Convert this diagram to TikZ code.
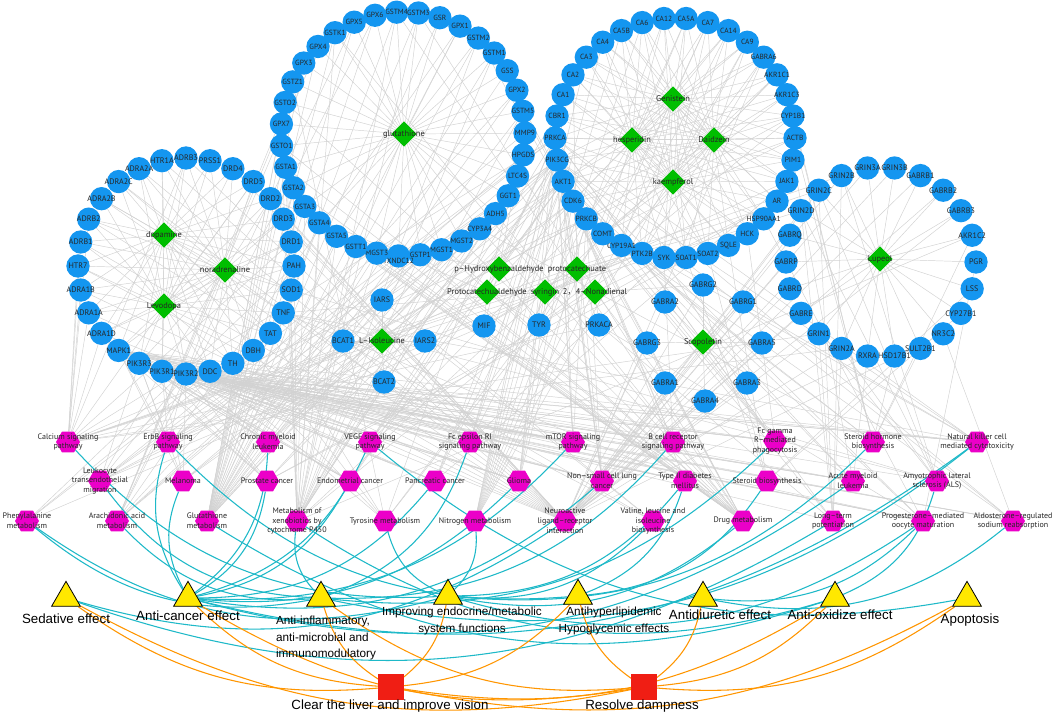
\documentclass[tikz,border=0pt]{standalone}
\usepackage{fontspec}
\setmainfont{PT Sans}
\newfontfamily\efffont{Liberation Sans}
\newfontfamily\cjk{Noto Sans CJK SC}
\usetikzlibrary{shapes.geometric}
\pgfdeclarelayer{bg}
\pgfsetlayers{bg,main}
\definecolor{geneblue}{RGB}{20,150,240}
\definecolor{cgreen}{RGB}{0,190,0}
\definecolor{pmag}{RGB}{235,0,200}
\definecolor{eyel}{RGB}{255,232,0}
\definecolor{hred}{RGB}{240,30,20}
\definecolor{ecyan}{RGB}{30,185,200}
\definecolor{eorange}{RGB}{255,150,0}
\definecolor{egray}{RGB}{210,210,210}
\tikzset{
 gene/.style={circle,fill=geneblue,minimum size=17.5pt,inner sep=0pt},
 glab/.style={font=\fontsize{6}{7}\selectfont,text=black!85,inner sep=0pt},
 glabs/.style={font=\fontsize{5.6}{7}\selectfont,text=black!85,inner sep=0pt},
 cmpd/.style={diamond,fill=cgreen,minimum size=19pt,inner sep=0pt},
 clab/.style={font=\fontsize{6.3}{7.5}\selectfont,text=black!85,inner sep=0pt},
 pway/.style={regular polygon,regular polygon sides=6,fill=pmag,minimum size=18pt,inner sep=0pt},
 plab/.style={font=\fontsize{6}{7.4}\selectfont,text=black!85,align=center,inner sep=0pt},
 effect/.style={regular polygon,regular polygon sides=3,fill=eyel,draw=black,line width=0.6pt,minimum size=25pt,inner sep=0pt},
 elab/.style={font=\efffont\fontsize{10}{12.5}\selectfont,align=center,inner sep=0pt},
 elabs/.style={font=\efffont\fontsize{8.8}{12.5}\selectfont,align=center,inner sep=0pt},
 herb/.style={rectangle,fill=hred,minimum size=19pt,inner sep=0pt},
 gedge/.style={draw=egray,line width=0.35pt},
 cedge/.style={draw=ecyan,line width=0.8pt},
 oedge/.style={draw=eorange,line width=0.8pt},
}
\def\ringA{ADRB3,PRSS1,DRD4,DRD5,DRD2,DRD3,DRD1,PAH,SOD1,TNF,TAT,DBH,TH,DDC,PIK3R2,PIK3R1,PIK3R3,MAPK1,ADRA1D,ADRA1A,ADRA1B,HTR7,ADRB1,ADRB2,ADRA2B,ADRA2C,ADRA2A,HTR1A}
\def\ringB{GSTM4,GSTM3,GSR,GPX1,GSTM2,GSTM1,GSS,GPX2,GSTM5,MMP9,HPGDS,LTC4S,GGT1,ADH5,CYP3A4,MGST2,MGST1,GSTP1,TXNDC12,MGST3,GSTT1,GSTA5,GSTA4,GSTA3,GSTA2,GSTA1,GSTO1,GPX7,GSTO2,GSTZ1,GPX3,GPX4,GSTK1,GPX5,GPX6}
\def\ringC{CA12,CA5A,CA7,CA14,CA9,GABRA6,AKR1C1,AKR1C3,CYP1B1,ACTB,PIM1,JAK1,AR,HSP90AA1,HCK,SQLE,SOAT2,SOAT1,SYK,PTK2B,CYP19A1,COMT,PRKCB,CDK6,AKT1,PIK3CG,PRKCA,CBR1,CA1,CA2,CA3,CA4,CA5B,CA6}
\def\ringD{GRIN3A,GRIN3B,GABRB1,GABRB2,GABRB3,AKR1C2,PGR,LSS,CYP27B1,NR3C2,SULT2B1,HSD17B1,RXRA,GRIN2A,GRIN1,GABRE,GABRD,GABRP,GABRQ,GRIN2D,GRIN2C,GRIN2B}
\begin{document}
\begin{tikzpicture}[x=0.75pt,y=0.75pt]
\useasboundingbox (0,0) rectangle (1052,-715);
% ---------- gene rings
\foreach \n [count=\i from 0] in \ringA
  \node[gene,label={[glab]center:\n}] (\n) at ([shift={({90-\i*12.857}:108)}]186,-266) {};
\foreach \n [count=\i from 0] in \ringB
  \node[gene,label={[glabs,yshift={ifthenelse(\i==18,-3.5,0)}]center:\n}] (\n) at ([shift={({93-\i*10.2857}:122)}]403,-134) {};
\foreach \n [count=\i from 0] in \ringC
  \node[gene,label={[glabs]center:\n}] (\n) at ([shift={({95.29-\i*10.588}:120)}]675,-138) {};
\foreach \n [count=\i from 0] in \ringD
  \node[gene,label={[glab]center:\n}] (\n) at ([shift={({98.18-\i*16.364}:95)}]881,-262) {};
% ---------- free genes
\foreach \n/\x/\y in {IARS/382/300,MIF/484/326,TYR/539/325,PRKACA/599/325,BCAT1/343/341,IARS2/425/341,BCAT2/384/382,GABRG2/703/285,GABRA2/665/302,GABRG1/743/302,GABRG3/647/343,GABRA5/762/343,GABRA1/665/383,GABRA3/747/383,GABRA4/705/401}
  \node[gene,label={[glab]center:\n}] (\n) at (\x,-\y) {};
% ---------- compounds
\node[cmpd,label={[clab]center:dopamine}] (dopamine) at (164,-235) {};
\node[cmpd,label={[clab]center:noradrenaline}] (noradrenaline) at (225,-270) {};
\node[cmpd,label={[clab]center:Levodopa}] (Levodopa) at (164,-306) {};
\node[cmpd,label={[clab]center:glutathione}] (glutathione) at (404,-134) {};
\node[cmpd,label={[clab]center:Genistein}] (Genistein) at (673,-99) {};
\node[cmpd,label={[clab]center:hesperidin}] (hesperidin) at (632,-140) {};
\node[cmpd,label={[clab]center:Daidzein}] (Daidzein) at (714,-140) {};
\node[cmpd,label={[clab]center:kaempferol}] (kaempferol) at (673,-182) {};
\node[cmpd,label={[clab]center:Lupeol}] (Lupeol) at (880,-259) {};
\node[cmpd,label={[clab]center:p–Hydroxybenzaldehyde}] (phb) at (499,-269) {};
\node[cmpd,label={[clab]center:protocatechuate}] (pca) at (577,-269) {};
\node[cmpd,label={[clab]center:Protocatechualdehyde}] (pcal) at (487,-292) {};
\node[cmpd,label={[clab]center:syringin}] (syringin) at (545,-292) {};
\node[cmpd,label={[clab]center:{2{\cjk ，}4–Nonadienal}}] (nonadienal) at (595,-292) {};
\node[cmpd,label={[clab]center:L–Isoleucine}] (lile) at (382,-341) {};
\node[cmpd,label={[clab]center:Scopoletin}] (Scopoletin) at (703,-342) {};
% ---------- pathways
\foreach \n/\x/\y/\t in {
 calcium/68/442/{Calcium signaling\\pathway},
 erbb/168/442/{ErbB signaling\\pathway},
 cml/268/442/{Chronic myeloid\\leukemia},
 vegf/370/442/{VEGF signaling\\pathway},
 fceri/470/442/{Fc epsilon RI\\signaling pathway},
 mtor/573/442/{mTOR signaling\\pathway},
 bcr/673/442/{B cell receptor\\signaling pathway},
 fcgr/775/441/{Fc gamma\\R–mediated\\phagocytosis},
 steroidh/873/442/{Steroid hormone\\biosynthesis},
 nk/977/442/{Natural killer cell\\mediated cytotoxicity},
 leuko/100/481/{Leukocyte\\transendothelial\\migration},
 melanoma/183/481/{Melanoma},
 prostate/267/481/{Prostate cancer},
 endometrial/350/481/{Endometrial cancer},
 pancreatic/435/481/{Pancreatic cancer},
 glioma/519/481/{Glioma},
 nsclc/602/481/{Non–small cell lung\\cancer},
 t2d/685/481/{Type II diabetes\\mellitus},
 steroidb/767/481/{Steroid biosynthesis},
 aml/853/481/{Acute myeloid\\leukemia},
 als/937/481/{Amyotrophic lateral\\sclerosis (ALS)},
 phe/27/521/{Phenylalanine\\metabolism},
 arach/117/521/{Arachidonic acid\\metabolism},
 glutmet/207/521/{Glutathione\\metabolism},
 xeno/297/521/{Metabolism of\\xenobiotics by\\cytochrome P450},
 tyro/385/521/{Tyrosine metabolism},
 nitro/475/521/{Nitrogen metabolism},
 neuro/565/521/{Neuroactive\\ligand–receptor\\interaction},
 valine/653/521/{Valine, leucine and\\isoleucine\\biosynthesis},
 drugmet/743/521/{Drug metabolism},
 ltp/833/521/{Long–term\\potentiation},
 prog/923/521/{Progesterone–mediated\\oocyte maturation},
 aldo/1013/521/{Aldosterone–regulated\\sodium reabsorption}}
  \node[pway,label={[plab]center:\t}] (\n) at (\x,-\y) {};
% ---------- effects
\foreach \n/\x/\y in {sed/66/598,canc/188/598,infl/321/598,endo/448/596,lipid/578/596,diur/703/598,oxid/835/598,apop/967/598}
  \node[effect] (\n) at (\x,-\y) {};
\node[elab] (sedL) at (66,-619) {Sedative effect};
\node[elab] (cancL) at (188,-616) {Anti-cancer effect};
\node[elabs,align=left] (inflL) at (326,-638) {Anti-inflammatory,\\anti-microbial and\\immunomodulatory};
\node[elabs] (endoL) at (462,-621) {Improving endocrine/metabolic\\system functions};
\node[elabs] (lipidL) at (614,-621) {Antihyperlipidemic\\Hypoglycemic effects};
\node[elab] (diurL) at (720,-615) {Antidiuretic effect};
\node[elab] (oxidL) at (840,-615) {Anti-oxidize effect};
\node[elab] (apopL) at (970,-620) {Apoptosis};
% ---------- herbs
\node[herb] (clear) at (391,-687) {};
\node[herb] (resolve) at (644,-687) {};
\node[elab] (clearL) at (390,-706) {Clear the liver and improve vision};
\node[elab] (resolveL) at (642,-706) {Resolve dampness};
% ---------- edges
\begin{pgfonlayer}{bg}
\fill[white] (0,0) rectangle (1052,-715);
\foreach \c in {dopamine,noradrenaline,Levodopa}
  \foreach \g in \ringA \draw[gedge] (\c) -- (\g);
\foreach \g in \ringB \draw[gedge] (glutathione) -- (\g);
\foreach \c in {Genistein,hesperidin,Daidzein,kaempferol}
  \foreach \g in \ringC \draw[gedge] (\c) -- (\g);
\foreach \g in \ringD \draw[gedge] (Lupeol) -- (\g);
\foreach \c/\gl in {
 phb/{MIF,TYR,AKT1,PIK3CG,GSTP1,PRKCA,MMP9},
 pca/{TYR,PRKACA,MIF,CA2,AKT1,HSP90AA1},
 pcal/{MIF,TYR,MMP9,PRKCA,CDK6,DRD2},
 syringin/{TYR,PRKACA,TNF,MIF,JAK1},
 nonadienal/{PRKACA,GABRA1,GABRG2,TYR,AR},
 lile/{BCAT1,BCAT2,IARS,IARS2},
 Scopoletin/{GABRA1,GABRA2,GABRA3,GABRA4,GABRA5,GABRG1,GABRG2,GABRG3}}
  \foreach \g in \gl \draw[gedge] (\c) -- (\g);
\foreach \p/\gl in {
 calcium/{ADRA1A,ADRA1B,ADRA1D,ADRB1,ADRB2,ADRB3,HTR7,DRD1,DRD5,PRKCA,PRKCB,PRKACA,GRIN1,GRIN2A,GRIN2B,GRIN2C,GRIN2D,PTK2B},
 erbb/{MAPK1,PIK3R1,PIK3R2,PIK3R3,PIK3CG,AKT1,PRKCA,PRKCB,PTK2B},
 cml/{MAPK1,PIK3R1,PIK3R2,PIK3R3,PIK3CG,AKT1,CDK6},
 vegf/{MAPK1,PIK3R1,PIK3R2,PIK3R3,PIK3CG,AKT1,PRKCA,PRKCB,PTK2B},
 fceri/{MAPK1,PIK3R1,PIK3R2,PIK3R3,PIK3CG,AKT1,PRKCA,PRKCB,SYK,TNF},
 mtor/{MAPK1,PIK3R1,PIK3R2,PIK3R3,PIK3CG,AKT1,PRKCA,PRKCB},
 bcr/{MAPK1,PIK3R1,PIK3R2,PIK3R3,PIK3CG,AKT1,SYK},
 fcgr/{MAPK1,PIK3R1,PIK3R2,PIK3R3,PIK3CG,AKT1,PRKCA,PRKCB,SYK,HCK},
 steroidh/{CYP1B1,CYP19A1,COMT,AKR1C1,AKR1C3,AKR1C2,HSD17B1,CYP3A4,SULT2B1},
 nk/{MAPK1,PIK3R1,PIK3R2,PIK3R3,PIK3CG,SYK,TNF,PRKCA,PRKCB},
 leuko/{PIK3R1,PIK3R2,PIK3R3,PIK3CG,MMP9,PRKCA,PRKCB,PTK2B,ACTB},
 melanoma/{MAPK1,PIK3R1,PIK3R2,PIK3R3,PIK3CG,AKT1,CDK6},
 prostate/{MAPK1,PIK3R1,PIK3R2,PIK3R3,PIK3CG,AKT1,AR,HSP90AA1},
 endometrial/{MAPK1,PIK3R1,PIK3R2,PIK3R3,PIK3CG,AKT1},
 pancreatic/{MAPK1,PIK3R1,PIK3R2,PIK3R3,PIK3CG,AKT1,CDK6,JAK1},
 glioma/{MAPK1,PIK3R1,PIK3R2,PIK3R3,PIK3CG,AKT1,CDK6,PRKCA,PRKCB},
 nsclc/{MAPK1,PIK3R1,PIK3R2,PIK3R3,PIK3CG,AKT1,CDK6,PRKCA,PRKCB,RXRA},
 t2d/{PIK3R1,PIK3R2,PIK3R3,PIK3CG,TNF,MAPK1},
 steroidb/{SQLE,SOAT1,SOAT2,LSS,CYP27B1},
 aml/{MAPK1,PIK3R1,PIK3R2,PIK3R3,PIK3CG,AKT1,PIM1,RXRA},
 als/{GRIN1,GRIN2A,GRIN2B,GRIN2C,GRIN2D,SOD1,TNF,MAPK1},
 phe/{TAT,PAH,MIF,DDC},
 arach/{GPX1,GPX2,GPX3,GPX4,GPX5,GPX6,GPX7,GGT1,LTC4S,HPGDS},
 glutmet/{GSTA1,GSTA2,GSTA3,GSTA4,GSTA5,GSTM1,GSTM2,GSTM3,GSTM4,GSTM5,GSR,GSS,GPX1,GPX2,GPX3,GPX4,GPX5,GPX6,GPX7,GGT1,MGST1,MGST2,MGST3,GSTO1,GSTO2,GSTP1,GSTT1,GSTK1},
 xeno/{GSTA1,GSTA2,GSTA3,GSTA4,GSTA5,GSTM1,GSTM2,GSTM3,GSTM4,GSTM5,MGST1,MGST2,MGST3,GSTO1,GSTO2,GSTP1,GSTT1,GSTK1,ADH5,CBR1,AKR1C1,AKR1C2,CYP3A4,CYP1B1},
 tyro/{TAT,TH,DBH,DDC,COMT,TYR,GSTZ1,ADH5},
 nitro/{CA1,CA2,CA3,CA4,CA5A,CA5B,CA6,CA7,CA9,CA12,CA14},
 neuro/{ADRA1A,ADRA1B,ADRA1D,ADRA2A,ADRA2B,ADRA2C,ADRB1,ADRB2,ADRB3,DRD1,DRD2,DRD3,DRD4,DRD5,HTR1A,HTR7,GABRA1,GABRA2,GABRA3,GABRA4,GABRA5,GABRA6,GABRB1,GABRB2,GABRB3,GABRG1,GABRG2,GABRG3,GABRD,GABRE,GABRP,GABRQ,GRIN1,GRIN2A,GRIN2B,GRIN2C,GRIN2D,GRIN3A,GRIN3B,NR3C2},
 valine/{BCAT1,BCAT2,IARS,IARS2},
 drugmet/{GSTA1,GSTA2,GSTA3,GSTA4,GSTA5,GSTM1,GSTM2,GSTM3,GSTM4,GSTM5,MGST1,MGST2,MGST3,GSTO1,GSTO2,GSTP1,GSTT1,GSTK1,ADH5,CYP3A4},
 ltp/{GRIN1,GRIN2A,GRIN2B,GRIN2C,GRIN2D,MAPK1,PRKCA,PRKCB,PRKACA},
 prog/{PIK3R1,PIK3R2,PIK3R3,PIK3CG,AKT1,MAPK1,PGR,HSP90AA1,PRKACA},
 aldo/{NR3C2,PIK3R1,PIK3R2,PIK3R3,PIK3CG,PRKCA,PRKCB}}
  \foreach \g in \gl \draw[gedge] (\g) -- (\p);
% cyan: pathway -> effect
\foreach \a/\b in {phe/endo,phe/infl,calcium/endo,leuko/infl,arach/infl,erbb/canc,erbb/lipid,melanoma/canc,glutmet/oxid,xeno/oxid,xeno/infl,vegf/apop,tyro/endo}
  \draw[cedge] (\a) to[bend right=25] (\b);
\foreach \a/\b in {cml/canc,prostate/canc,endometrial/canc,pancreatic/canc,glioma/canc,mtor/canc,nsclc/canc,aml/canc,vegf/canc,nitro/endo,fceri/infl,neuro/sed,valine/endo,bcr/infl,t2d/lipid,t2d/endo,drugmet/endo,steroidb/lipid,fcgr/infl,ltp/sed,steroidh/endo,prog/endo,prog/diur,als/oxid,nk/infl,nk/canc,aldo/diur}
  \draw[cedge] (\a) to[bend left=25] (\b);
% orange: effect -> herb
\foreach \a/\b in {sed/clear,sed/resolve,canc/clear,canc/resolve,infl/clear,infl/resolve,lipid/resolve}
  \draw[oedge] (\a) to[bend right=20] (\b);
\foreach \a/\b in {endo/clear,lipid/clear,diur/resolve,oxid/clear,oxid/resolve,apop/clear,apop/resolve}
  \draw[oedge] (\a) to[bend left=20] (\b);
\end{pgfonlayer}
\end{tikzpicture}
\end{document}
